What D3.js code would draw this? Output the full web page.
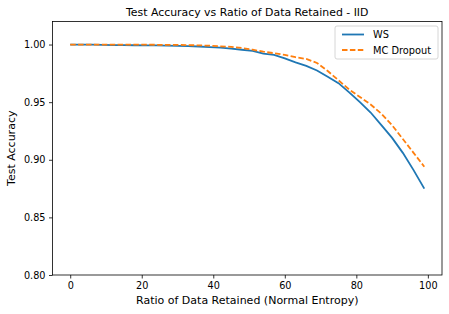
<!DOCTYPE html>
<html>
<head>
<meta charset="utf-8">
<script src="https://cdn.jsdelivr.net/npm/d3@7"></script>
<style>
  body { margin: 0; background: #fff; }
  text { font-family: "DejaVu Sans", sans-serif; fill: #000; }
</style>
</head>
<body>
<script>
// values
const ratio = [0, 3, 6, 9, 12, 15, 18, 21, 24, 27, 30, 33, 36, 39, 42, 45, 48, 51, 54, 57, 60, 63, 66, 69, 72, 75, 78, 81, 84, 87, 90, 93, 96, 99];
const ws = [1.0, 1.0, 1.0, 0.9998, 0.9995, 0.9995, 0.9994, 0.9993, 0.9992, 0.999, 0.9988, 0.9986, 0.9983, 0.9978, 0.9973, 0.9965, 0.9955, 0.9945, 0.9922, 0.991, 0.988, 0.9845, 0.9815, 0.9775, 0.972, 0.9665, 0.9585, 0.950, 0.941, 0.930, 0.919, 0.906, 0.891, 0.875];
const mcDropout = [1.0, 1.0, 1.0, 1.0, 1.0, 1.0, 0.9999, 0.9999, 0.9998, 0.9998, 0.9997, 0.9995, 0.9993, 0.999, 0.9985, 0.998, 0.997, 0.9955, 0.9938, 0.9925, 0.991, 0.989, 0.9875, 0.984, 0.977, 0.969, 0.961, 0.9545, 0.948, 0.940, 0.930, 0.918, 0.906, 0.894];
const xTicks = [0, 20, 40, 60, 80, 100];
const yTicks = [0.80, 0.85, 0.90, 0.95, 1.00];

const width = 449, height = 314;
const padLeft = 52.5, padRight = 442, padTop = 21.5, padBottom = 275;

const svg = d3.select("body").append("svg").attr("width", width).attr("height", height);

const x = d3.scaleLinear().domain([-4.95, 103.95]).range([padLeft, padRight]);
const y = d3.scaleLinear().domain([0.8, 1.02]).range([padBottom, padTop]);

const xAxis = d3.axisBottom(x).tickValues(xTicks).tickSize(3.5).tickPadding(3.5).tickFormat(d3.format("d"));
svg.append("g").attr("transform", "translate(0," + padBottom + ")").call(xAxis);

const yAxis = d3.axisLeft(y).tickValues(yTicks).tickSize(3.5).tickPadding(3.5).tickFormat(d3.format(".2f"));
svg.append("g").attr("transform", "translate(" + padLeft + ",0)").call(yAxis);

svg.selectAll(".domain").remove();
svg.selectAll(".tick text").style("font-size", "9.7px").style("font-family", "DejaVu Sans").attr("fill", "#000");
svg.selectAll(".tick line").attr("stroke", "#000").attr("stroke-width", 0.8);

const line = (vals) => d3.line().x((d, i) => x(ratio[i])).y((d) => y(d))(vals);

svg.append("path").attr("d", line(ws)).attr("fill", "none").attr("stroke", "#1f77b4").attr("stroke-width", 1.8);
svg.append("path").attr("d", line(mcDropout)).attr("fill", "none").attr("stroke", "#ff7f0e").attr("stroke-width", 1.8).attr("stroke-dasharray", "5.5,2.4");

svg.append("rect").attr("x", padLeft).attr("y", padTop).attr("width", padRight - padLeft).attr("height", padBottom - padTop)
  .attr("fill", "none").attr("stroke", "#000").attr("stroke-width", 0.8);

// title + labels
svg.append("text").attr("x", (padLeft + padRight) / 2).attr("y", 15.5).attr("text-anchor", "middle").style("font-size", "10.9px")
  .text("Test Accuracy vs Ratio of Data Retained - IID");
svg.append("text").attr("x", (padLeft + padRight) / 2).attr("y", 304).attr("text-anchor", "middle").style("font-size", "11px")
  .text("Ratio of Data Retained (Normal Entropy)");
svg.append("text").attr("transform", "translate(15," + (padTop + padBottom) / 2 + ") rotate(-90)").attr("text-anchor", "middle").style("font-size", "11px")
  .text("Test Accuracy");

// legend
const legend = svg.append("g").attr("transform", "translate(335,26)");
legend.append("rect").attr("width", 103).attr("height", 33).attr("rx", 2)
  .attr("fill", "#fff").attr("fill-opacity", 0.8).attr("stroke", "#ccc").attr("stroke-width", 0.8);
const items = [["WS", "#1f77b4", null], ["MC Dropout", "#ff7f0e", "5.5,2.4"]];
items.forEach((it, i) => {
  const yy = 8.5 + i * 15.5;
  legend.append("line").attr("x1", 7).attr("x2", 29).attr("y1", yy).attr("y2", yy)
    .attr("stroke", it[1]).attr("stroke-width", 1.8).attr("stroke-dasharray", it[2]);
  legend.append("text").attr("x", 38).attr("y", yy + 3.5).style("font-size", "9.8px").text(it[0]);
});
</script>
</body>
</html>
